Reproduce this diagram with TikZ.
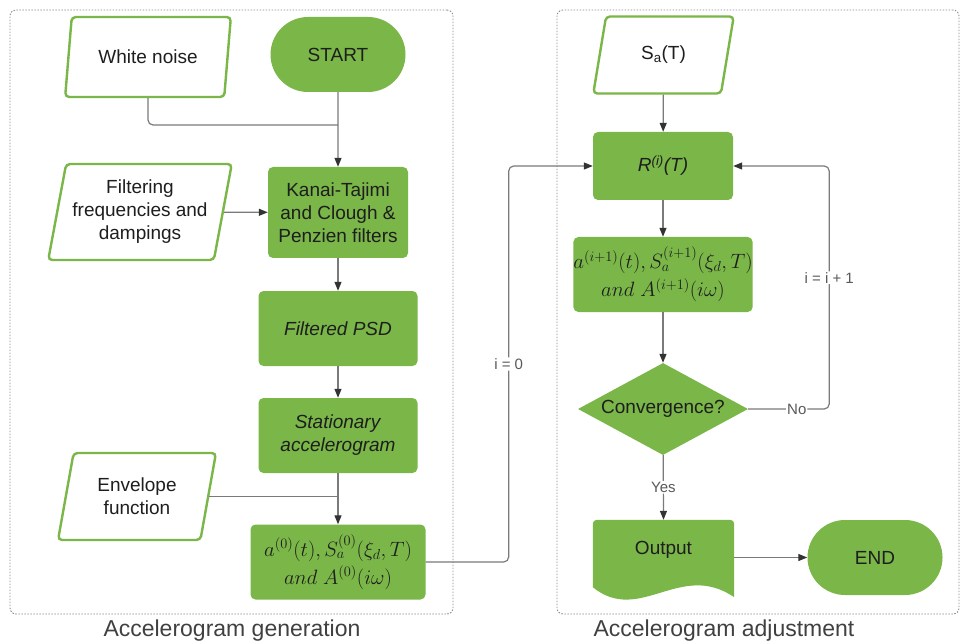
\documentclass[tikz,border=0pt]{standalone}
\usepackage{amsmath}
\usepackage{fontspec}
\setmainfont{Liberation Sans}
\usetikzlibrary{positioning,arrows.meta,shapes.geometric,shapes.misc,calc}
\definecolor{greenc}{HTML}{7AB648}
\definecolor{linec}{HTML}{7A7A7A}
\definecolor{txtc}{HTML}{1E1E1E}

\begin{document}
\begin{tikzpicture}[
  x=1pt, y=-1pt,
  >={Triangle[length=9pt,width=7pt,color=black!80]},
  every node/.style={inner sep=2pt, text=txtc, font=\fontsize{19}{23}\selectfont},
  conn/.style={draw=linec, line width=1.2pt, rounded corners=5pt},
  proc/.style={fill=greenc, rounded corners=5pt, align=center},
  term/.style={fill=greenc, rounded rectangle, minimum width=139pt, minimum height=75pt},
  inbox/.style={trapezium, trapezium left angle=76, trapezium right angle=104,
    trapezium stretches=true, draw=greenc, line width=2.4pt, fill=white,
    rounded corners=4pt, align=center},
  dec/.style={diamond, fill=greenc, aspect=1.85, inner sep=0pt,
    minimum width=170pt, minimum height=92pt},
  frame/.style={draw=black!45, line width=0.9pt, dash pattern=on 1.5pt off 1.5pt, rounded corners=6pt},
  grplabel/.style={font=\fontsize{23}{27}\selectfont, text=black!75},
  labl/.style={fill=white, inner sep=1pt, font=\fontsize{15}{17}\selectfont, text=black!65},
  mathtxt/.style={font=\fontsize{20.74}{28}\selectfont}
]
\useasboundingbox (0,0) rectangle (963,644);

% Group frames
\node[frame, minimum width=443pt, minimum height=604pt] (genbox) at (231.5,312) {};
\node[frame, minimum width=402pt, minimum height=604pt] (adjbox) at (758,312) {};
\node[grplabel] (genlabel) at (232,631) {Accelerogram generation};
\node[grplabel] (adjlabel) at (724,631) {Accelerogram adjustment};

% Nodes (pixel grid of the 963 x 644 page)
\node[inbox, minimum width=166pt, minimum height=80pt] (wnoise) at (148,57) {White noise};
\node[term] (start) at (338,54.5) {START};
\node[inbox, minimum width=184pt, minimum height=96pt] (filt) at (140,212)
  {Filtering\\frequencies and\\dampings};
\node[proc, minimum width=140pt, minimum height=91pt] (kanai) at (338,212.5)
  {Kanai-Tajimi\\and Clough \&\\Penzien filters};
\node[proc, minimum width=159pt, minimum height=75pt] (fpsd) at (338,328.5) {\textit{Filtered PSD}};
\node[proc, minimum width=159pt, minimum height=75pt] (stat) at (338,435.5)
  {\textit{Stationary}\\\textit{accelerogram}};
\node[inbox, minimum width=158pt, minimum height=87pt] (envl) at (137,496.5) {Envelope\\function};
\node[proc, mathtxt, inner sep=0pt, minimum width=175pt, minimum height=75pt] (amp0) at (338,562)
  {$a^{(0)}(t), S_a^{(0)}(\xi_d, T)$\\$and\ A^{(0)}(i\omega)$};

\node[inbox, minimum width=141pt, minimum height=77pt] (sat) at (663.5,55) {S\textsubscript{a}(T)};
\node[proc, minimum width=140pt, minimum height=68pt] (resp) at (663,166) {\textit{R\textsuperscript{(i)}(T)}};
\node[proc, mathtxt, inner sep=0pt, minimum width=177pt, minimum height=75pt] (ampi) at (663,274.5)
  {$a^{(i+1)}(t), S_a^{(i+1)}(\xi_d, T)$\\$and\ A^{(i+1)}(i\omega)$};
\node[dec] (conv) at (663,409) {Convergence?};
\node[minimum width=141pt, minimum height=77pt] (output) at (663.5,558.5) {};
\fill[greenc] ([yshift=10pt]output.south west) [rounded corners=4pt] -- (output.north west)
  -- (output.north east) [sharp corners] -- (output.south east)
  .. controls +(-54,-37) and +(47,38) .. ([yshift=10pt]output.south west) -- cycle;
\node (outtxt) at (663.5,550) {Output};
\node[term] (end) at (875,557.5) {END};

% Arrows
\coordinate (wnjoin) at (338,125);
\draw[conn] (wnoise.south) |- (wnjoin);
\draw[conn,->] (start) -- (kanai);
\draw[conn,->] (filt) -- (kanai);
\draw[conn,->] (kanai) -- (fpsd);
\draw[conn,->] (fpsd) -- (stat);
\draw[conn] (envl.east) -- (envl.east -| stat.south);
\draw[conn,->] (stat) -- (amp0);
\draw[conn,->] (amp0.east) -- ++(83,0) |- node[labl, pos=0.25]{i = 0} (resp.west);

\draw[conn,->] (sat) -- (resp);
\draw[conn,->] (resp) -- (ampi);
\draw[conn,->] (ampi) -- (conv);
\draw[conn,->] (conv.east) -- node[labl, pos=0.6]{No} ++(81,0)
  |- node[labl, pos=0.27]{i = i + 1} (resp.east);
\draw[conn,->] (conv) -- node[labl]{Yes} (output.north);
\draw[conn,->] (output.east |- end) -- (end);
\end{tikzpicture}
\end{document}
